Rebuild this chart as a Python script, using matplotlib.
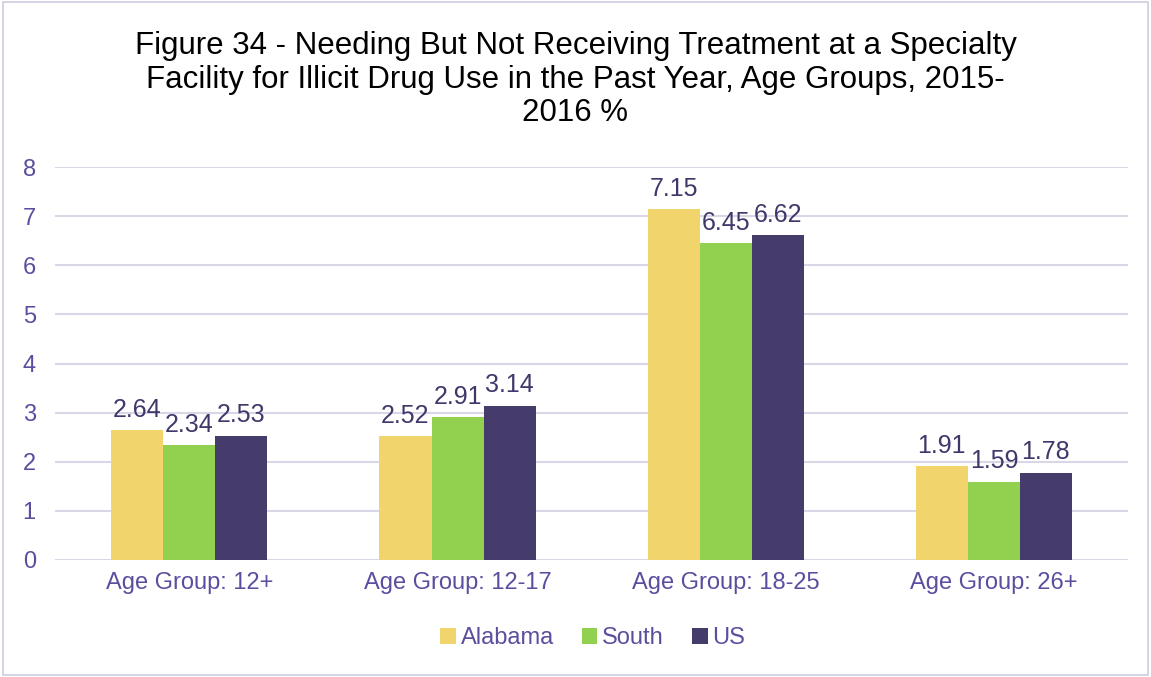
import numpy as np
import matplotlib
matplotlib.use("Agg")
import matplotlib.pyplot as plt
from matplotlib.patches import Rectangle

matplotlib.rcParams["font.family"] = ["Liberation Sans", "DejaVu Sans"]

categories = ["Age Group: 12+", "Age Group: 12-17", "Age Group: 18-25", "Age Group: 26+"]
series_names = ["Alabama", "South", "US"]
alabama = [2.64, 2.52, 7.15, 1.91]
south = [2.34, 2.91, 6.45, 1.59]
us = [2.53, 3.14, 6.62, 1.78]

colors = ["#F2D46C", "#92D050", "#463C6C"]
tick_color = "#5B4E9E"
label_color = "#41376B"
grid_color = "#D9D6E8"

fig = plt.figure(figsize=(11.51, 6.77), dpi=100)
ax = fig.add_axes([0.048, 0.173, 0.932, 0.58])

x = np.arange(len(categories))
w = 0.194
for i, (vals, name) in enumerate(zip([alabama, south, us], series_names)):
    pos = x + (i - 1) * w
    ax.bar(pos, vals, width=w, color=colors[i], label=name, zorder=3)
    for px, v in zip(pos, vals):
        ax.text(px, v + 0.17, f"{v:.2f}", ha="center", va="bottom",
                fontsize=18, color=label_color, zorder=4)

ax.set_ylim(0, 8)
ax.set_xlim(-0.5, 3.5)
ax.set_yticks(range(0, 9))
ax.set_xticks(x)
ax.set_xticklabels(categories)
ax.tick_params(axis="both", length=0, labelsize=17, colors=tick_color)
ax.tick_params(axis="y", pad=14)
ax.tick_params(axis="x", pad=9)
ax.grid(axis="y", color=grid_color, linewidth=1.5, zorder=0)
for s in ax.spines.values():
    s.set_visible(False)

fig.text(0.5, 0.882, "Figure 34 - Needing But Not Receiving Treatment at a Specialty\n"
         "Facility for Illicit Drug Use in the Past Year, Age Groups, 2015-\n2016 %",
         ha="center", va="center", fontsize=22.5, color="black", linespacing=1.15)

leg = fig.legend(loc="center", bbox_to_anchor=(0.515, 0.057), ncol=3, frameon=False,
                 fontsize=17, handlelength=0.65, handleheight=0.65, handletextpad=0.2,
                 columnspacing=1.2)
for t in leg.get_texts():
    t.set_color(tick_color)

fig.patches.append(Rectangle((0.003, 0.003), 0.994, 0.994, transform=fig.transFigure,
                             fill=False, edgecolor="#D0CDE0", linewidth=1.2))

fig.savefig("out.png", dpi=100)
